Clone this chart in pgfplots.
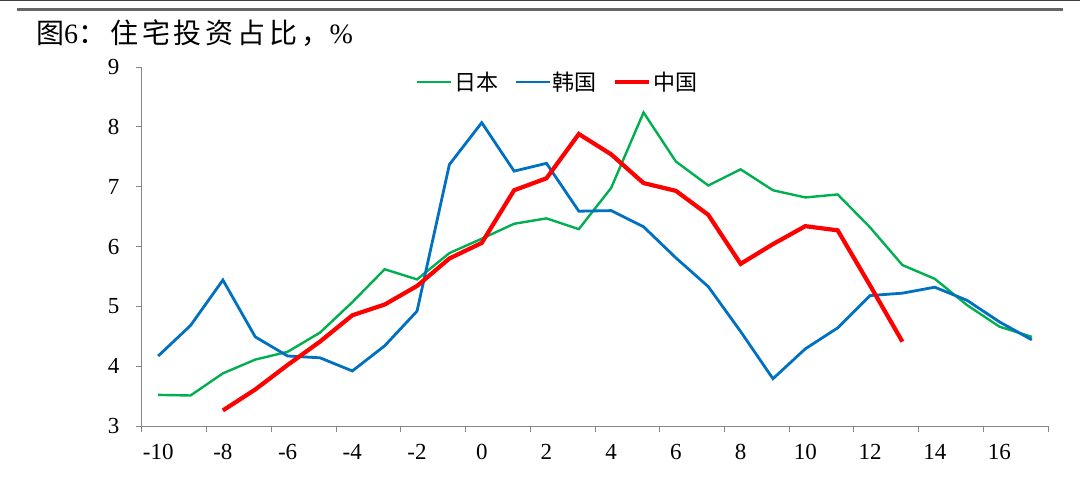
\documentclass[border=0pt]{standalone}
\usepackage{fontspec}
\usepackage{pgfplots}
\pgfplotsset{compat=1.18}
\setmainfont{Liberation Serif}
\newfontfamily\cjk{Noto Sans CJK SC}
\newfontfamily\cjktitle[LetterSpace=14]{Noto Sans CJK SC}
\definecolor{jpgreen}{RGB}{0,176,80}
\definecolor{krblue}{RGB}{0,112,192}
\definecolor{cnred}{RGB}{255,0,0}
\definecolor{axgray}{RGB}{134,134,134}
\begin{document}
\begin{tikzpicture}
\path[use as bounding box] (0pt,0pt) rectangle (1080pt,-493pt);
\draw[black!75, line width=1.5pt] (0pt,-0.5pt) -- (1080pt,-0.5pt);
\draw[black!60, line width=2.5pt] (17pt,-9.5pt) -- (1063pt,-9.5pt);
\node[anchor=west, inner sep=0pt] at (36pt,-33pt) {\fontsize{28}{30}\selectfont{\cjktitle 图}6{\cjktitle ：住宅投资占比，}\%};
\begin{axis}[
  at={(142pt,-426pt)}, anchor=south west,
  scale only axis, width=906pt, height=359pt,
  xmin=-10.5, xmax=17.5, ymin=3, ymax=9,
  axis x line=bottom, axis y line=left,
  axis line style={-, axgray, line width=1pt},
  xtick={-10,-8,...,16}, ytick={3,4,...,9},
  minor xtick={-10.5,-8.5,...,17.5}, minor ytick={3,4,...,9},
  major tick length=0pt, minor tick length=6pt,
  tick align=outside,
  every minor tick/.style={axgray, line width=1pt},
  tick label style={font=\fontsize{23}{25}\selectfont, black},
  /pgf/number format/assume math mode=true,
  yticklabel style={xshift=-19pt},
  xticklabel style={yshift=-15pt},
  legend style={at={(0.4586,0.958)}, anchor=center, draw=none, fill=none,
    font=\cjk\fontsize{22}{24}\selectfont, legend columns=3,
    /tikz/every even column/.append style={column sep=14pt}},
  legend image code/.code={\draw[#1] (0pt,0pt) -- (34pt,0pt);},
  clip=false,
]
\addplot[jpgreen, line width=2.4pt] coordinates {
(-10,3.52) (-9,3.51) (-8,3.88) (-7,4.11) (-6,4.24) (-5,4.56) (-4,5.07) (-3,5.62) (-2,5.45) (-1,5.89)
(0,6.13) (1,6.38) (2,6.47) (3,6.29) (4,6.98) (5,8.24) (6,7.42) (7,7.02) (8,7.29)
(9,6.94) (10,6.82) (11,6.87) (12,6.32) (13,5.69) (14,5.46) (15,5.02) (16,4.66) (17,4.49)};
\addlegendentry{日本}
\addplot[krblue, line width=2.8pt] coordinates {
(-10,4.17) (-9,4.68) (-8,5.44) (-7,4.49) (-6,4.17) (-5,4.14) (-4,3.92) (-3,4.34) (-2,4.92) (-1,7.37)
(0,8.07) (1,7.26) (2,7.39) (3,6.59) (4,6.60) (5,6.33) (6,5.81) (7,5.33) (8,4.58)
(9,3.79) (10,4.29) (11,4.64) (12,5.18) (13,5.22) (14,5.32) (15,5.10) (16,4.74) (17,4.44)};
\addlegendentry{韩国}
\addplot[cnred, line width=4.2pt] coordinates {
(-8,3.26) (-7,3.61) (-6,4.02) (-5,4.41) (-4,4.85) (-3,5.03) (-2,5.34) (-1,5.80)
(0,6.06) (1,6.94) (2,7.14) (3,7.88) (4,7.54) (5,7.06) (6,6.93) (7,6.53) (8,5.71)
(9,6.04) (10,6.34) (11,6.27) (12,5.35) (13,4.41)};
\addlegendentry{中国}
\end{axis}
\end{tikzpicture}
\end{document}
